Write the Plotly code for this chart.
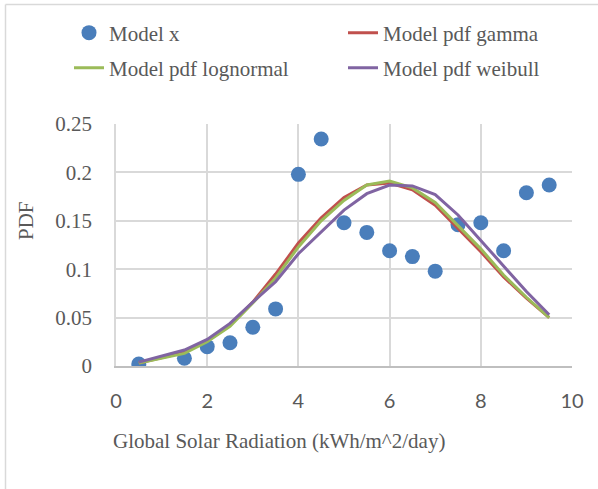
import plotly.graph_objects as go

x_vals = [0.5, 1.5, 2, 2.5, 3, 3.5, 4, 4.5, 5, 5.5, 6, 6.5, 7, 7.5, 8, 8.5, 9, 9.5]
model_x = [0.002, 0.008, 0.020, 0.024, 0.040, 0.059, 0.198, 0.2345, 0.148, 0.138, 0.119, 0.113, 0.098, 0.146, 0.148, 0.119, 0.179, 0.187]
pdf_gamma = [0.003, 0.014, 0.026, 0.042, 0.066, 0.095, 0.127, 0.153, 0.174, 0.187, 0.189, 0.182, 0.166, 0.142, 0.118, 0.092, 0.070, 0.050]
pdf_lognormal = [0.003, 0.013, 0.025, 0.041, 0.065, 0.091, 0.123, 0.150, 0.171, 0.187, 0.191, 0.184, 0.169, 0.145, 0.121, 0.094, 0.071, 0.050]
pdf_weibull = [0.004, 0.0165, 0.0275, 0.044, 0.066, 0.087, 0.116, 0.139, 0.161, 0.178, 0.187, 0.186, 0.177, 0.156, 0.130, 0.104, 0.077, 0.053]

W, H = 598, 489
L, R, T, B = 116, 572, 124, 366

def px(xp):
    return (xp - L) / (R - L)

def py(yp):
    return (B - yp) / (B - T)

serif = "Liberation Serif"
gray = "#595959"
FS = 21

fig = go.Figure()
fig.add_trace(go.Scatter(x=x_vals, y=model_x, mode="markers", name="Model x",
                         marker=dict(color="#4A7EBB", size=15), legend="legend"))
fig.add_trace(go.Scatter(x=x_vals, y=pdf_gamma, mode="lines", name="Model pdf gamma",
                         line=dict(color="#C0504D", width=3), legend="legend2"))
fig.add_trace(go.Scatter(x=x_vals, y=pdf_lognormal, mode="lines", name="Model pdf lognormal",
                         line=dict(color="#9BBB59", width=3), legend="legend3"))
fig.add_trace(go.Scatter(x=x_vals, y=pdf_weibull, mode="lines", name="Model pdf weibull",
                         line=dict(color="#8064A2", width=3), legend="legend4"))

leg_common = dict(orientation="v", xanchor="left", yanchor="middle",
                  font=dict(family=serif, size=FS, color=gray),
                  bgcolor="rgba(0,0,0,0)")

fig.update_layout(
    width=W, height=H,
    margin=dict(l=L, r=W - R, t=T, b=H - B),
    paper_bgcolor="white", plot_bgcolor="white",
    showlegend=True,
    legend=dict(x=px(69), y=py(33), **leg_common),
    legend2=dict(x=px(343), y=py(33), **leg_common),
    legend3=dict(x=px(69), y=py(68), **leg_common),
    legend4=dict(x=px(343), y=py(68), **leg_common),
    xaxis=dict(range=[0, 10], dtick=2, tick0=0, showgrid=True, gridcolor="#D9D9D9", gridwidth=1.5,
               zeroline=False, showline=True, linecolor="#BFBFBF", linewidth=1.5,
               ticks="", ticklabelstandoff=16,
               tickfont=dict(family="Lato", size=20, color=gray)),
    yaxis=dict(range=[0, 0.25], dtick=0.05, tick0=0, showgrid=True, gridcolor="#D9D9D9", gridwidth=1.5,
               zeroline=False, showline=True, linecolor="#D9D9D9", linewidth=1.5,
               ticks="", ticklabelstandoff=18,
               tickfont=dict(family=serif, size=FS, color=gray)),
    annotations=[
        dict(text="Global Solar Radiation (kWh/m^2/day)", xref="paper", yref="paper",
             x=px(278.5), y=py(441), showarrow=False, xanchor="center", yanchor="middle",
             font=dict(family=serif, size=FS, color=gray)),
        dict(text="PDF", xref="paper", yref="paper", x=px(26), y=py(221), textangle=-90,
             showarrow=False, xanchor="center", yanchor="middle",
             font=dict(family=serif, size=FS, color=gray)),
    ],
    shapes=[
        dict(type="line", xref="paper", yref="paper", x0=px(5.5), x1=px(5.5), y0=py(4.5), y1=py(489),
             line=dict(color="#D9D9D9", width=1.5)),
        dict(type="line", xref="paper", yref="paper", x0=px(5.5), x1=px(598), y0=py(4.5), y1=py(4.5),
             line=dict(color="#D9D9D9", width=1.5)),
    ],
)

fig.write_html("out.html")
